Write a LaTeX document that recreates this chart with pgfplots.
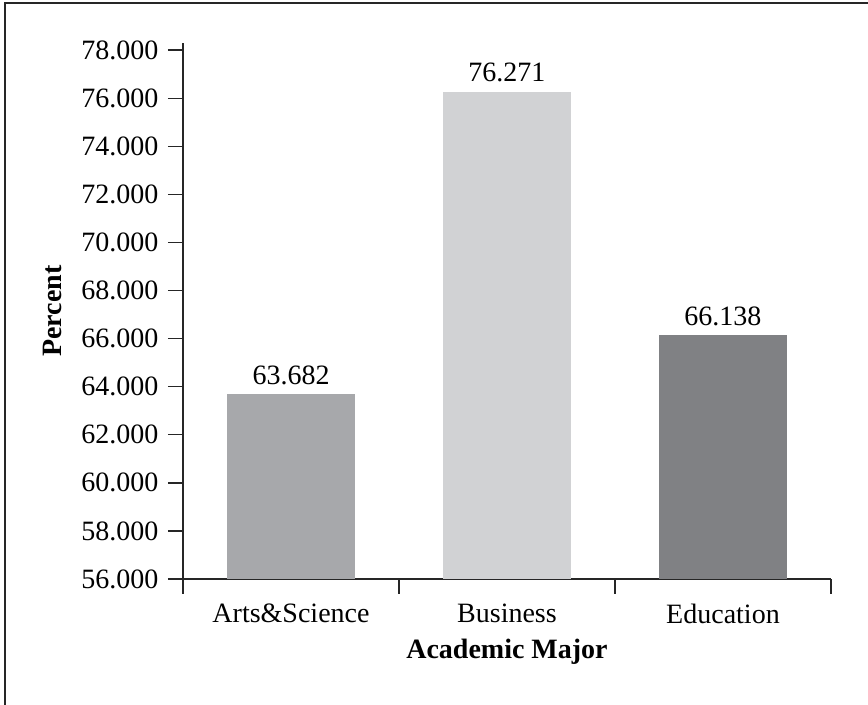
\documentclass[border=0pt]{standalone}
\usepackage{fontspec}
\setmainfont{Liberation Serif}
\usepackage{pgfplots}
\pgfplotsset{compat=1.18}
\definecolor{barA}{HTML}{A7A8AB}
\definecolor{barB}{HTML}{D1D2D4}
\definecolor{barC}{HTML}{808184}
\begin{document}
\fontsize{14}{17}\selectfont
\begin{tikzpicture}
\path[use as bounding box] (0,0) rectangle (434pt,352.5pt);
\draw[line width=1pt,black!85] (2.25pt,0) -- (2.25pt,350.75pt) -- (434pt,350.75pt);
\begin{axis}[
  at={(91.5pt,63pt)}, anchor=south west,
  scale only axis,
  width=324pt, height=268pt,
  font=\fontsize{14}{17}\selectfont,
  axis x line*=bottom, axis y line*=left,
  axis line style={-, line width=0.7pt, black!85},
  xmin=-0.5, xmax=2.5,
  ymin=56, ymax=78.3,
  ytick={56,58,...,78},
  xtick={0,1,2},
  xticklabels={Arts\&Science,Business,Education},
  minor xtick={-0.5,0.5,1.5,2.5},
  major x tick style={draw=none},
  minor x tick style={line width=0.7pt, black!85},
  major y tick style={line width=0.7pt, black!85},
  tick align=outside,
  major tick length=7.5pt,
  minor tick length=7.5pt,
  yticklabel style={/pgf/number format/.cd, fixed, precision=3, zerofill, 1000 sep={}, assume math mode=true},
  xlabel={\bfseries Academic Major},
  ylabel={\bfseries Percent},
  xlabel style={at={(axis description cs:0.5,-0.136)}, anchor=center},
  ylabel style={at={(axis description cs:-0.202,0.5)}, anchor=center, rotate=0},
  ybar, bar width=64pt,
  nodes near coords={\pgfmathprintnumber[fixed,precision=3,zerofill,assume math mode=true]{\pgfplotspointmeta}},
  every node near coord/.append style={font=\fontsize{14}{17}\selectfont, black},
]
\addplot[fill=barA, draw=none, bar shift=0pt] coordinates {(0,63.682)};
\addplot[fill=barB, draw=none, bar shift=0pt] coordinates {(1,76.271)};
\addplot[fill=barC, draw=none, bar shift=0pt] coordinates {(2,66.138)};
\end{axis}
\end{tikzpicture}
\end{document}
